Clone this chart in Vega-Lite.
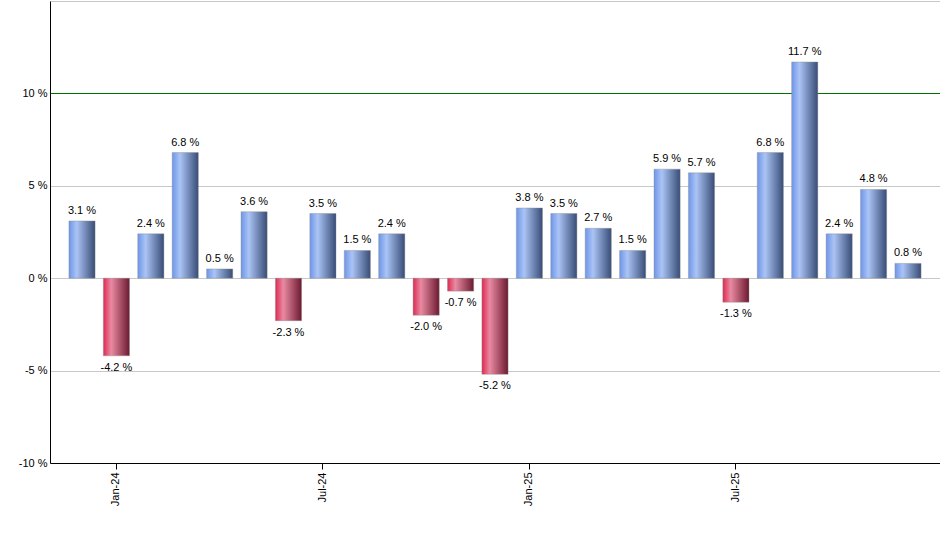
{
  "$schema": "https://vega.github.io/schema/vega-lite/v6.json",
  "width": 890,
  "height": 462,
  "autosize": {"type": "none"},
  "padding": {"left": 50, "top": 1, "right": 0, "bottom": 87},
  "background": "#ffffff",
  "config": {
    "view": {"stroke": null},
    "font": "Liberation Sans",
    "axis": {"labelFont": "Liberation Sans", "labelFontSize": 11, "labelColor": "#000000"}
  },
  "data": {
    "values": [
      {"m": "Dec-23", "v": 3.1},
      {"m": "Jan-24", "v": -4.2},
      {"m": "Feb-24", "v": 2.4},
      {"m": "Mar-24", "v": 6.8},
      {"m": "Apr-24", "v": 0.5},
      {"m": "May-24", "v": 3.6},
      {"m": "Jun-24", "v": -2.3},
      {"m": "Jul-24", "v": 3.5},
      {"m": "Aug-24", "v": 1.5},
      {"m": "Sep-24", "v": 2.4},
      {"m": "Oct-24", "v": -2.0},
      {"m": "Nov-24", "v": -0.7},
      {"m": "Dec-24", "v": -5.2},
      {"m": "Jan-25", "v": 3.8},
      {"m": "Feb-25", "v": 3.5},
      {"m": "Mar-25", "v": 2.7},
      {"m": "Apr-25", "v": 1.5},
      {"m": "May-25", "v": 5.9},
      {"m": "Jun-25", "v": 5.7},
      {"m": "Jul-25", "v": -1.3},
      {"m": "Aug-25", "v": 6.8},
      {"m": "Sep-25", "v": 11.7},
      {"m": "Oct-25", "v": 2.4},
      {"m": "Nov-25", "v": 4.8},
      {"m": "Dec-25", "v": 0.8}
    ]
  },
  "transform": [
    {"calculate": "(datum.v < 0 ? '-' : '') + format(abs(datum.v), '.1f') + ' %'", "as": "label"}
  ],
  "encoding": {
    "x": {
      "field": "m",
      "type": "ordinal",
      "sort": null,
      "scale": {
        "domain": ["Dec-23", "Jan-24", "Feb-24", "Mar-24", "Apr-24", "May-24", "Jun-24", "Jul-24", "Aug-24", "Sep-24", "Oct-24", "Nov-24", "Dec-24", "Jan-25", "Feb-25", "Mar-25", "Apr-25", "May-25", "Jun-25", "Jul-25", "Aug-25", "Sep-25", "Oct-25", "Nov-25", "Dec-25"],
        "paddingInner": 0.24,
        "paddingOuter": 0.55
      },
      "axis": {
        "title": null,
        "values": ["Jan-24", "Jul-24", "Jan-25", "Jul-25"],
        "labelAngle": 270,
        "labelPadding": 3,
        "tickSize": 6,
        "tickColor": "#000000",
        "domainColor": "#000000",
        "grid": false
      }
    },
    "y": {
      "field": "v",
      "type": "quantitative",
      "scale": {"domain": [-10, 15], "nice": false},
      "axis": {
        "title": null,
        "values": [-10, -5, 0, 5, 10, 15],
        "labelExpr": "datum.value == 15 ? '' : datum.value + ' %'",
        "tickSize": 0,
        "labelPadding": 3,
        "domainColor": "#000000",
        "grid": true,
        "gridColor": {"condition": {"test": "datum.value == 10", "value": "#007000"}, "value": "#c8c8c8"}
      }
    }
  },
  "layer": [
    {
      "transform": [{"filter": "datum.v >= 0"}],
      "mark": {
        "type": "bar",
        "stroke": "#8a8a8a",
        "strokeWidth": 0.4,
        "color": {
          "gradient": "linear",
          "x1": 0, "y1": 0, "x2": 1, "y2": 0,
          "stops": [
            {"offset": 0, "color": "#6e95e8"},
            {"offset": 0.3, "color": "#aac4f5"},
            {"offset": 1, "color": "#384c76"}
          ]
        }
      },
      "encoding": {"y2": {"datum": 0}}
    },
    {
      "transform": [{"filter": "datum.v < 0"}],
      "mark": {
        "type": "bar",
        "stroke": "#8a8a8a",
        "strokeWidth": 0.4,
        "color": {
          "gradient": "linear",
          "x1": 0, "y1": 0, "x2": 1, "y2": 0,
          "stops": [
            {"offset": 0, "color": "#dc2a52"},
            {"offset": 0.3, "color": "#e98aa2"},
            {"offset": 1, "color": "#6c1a30"}
          ]
        }
      },
      "encoding": {"y2": {"datum": 0}}
    },
    {
      "transform": [{"filter": "datum.v >= 0"}],
      "mark": {"type": "text", "baseline": "bottom", "dy": -5, "fontSize": 11, "color": "#000000"},
      "encoding": {"text": {"field": "label"}}
    },
    {
      "transform": [{"filter": "datum.v < 0"}],
      "mark": {"type": "text", "baseline": "top", "dy": 6, "fontSize": 11, "color": "#000000"},
      "encoding": {"text": {"field": "label"}}
    }
  ]
}
